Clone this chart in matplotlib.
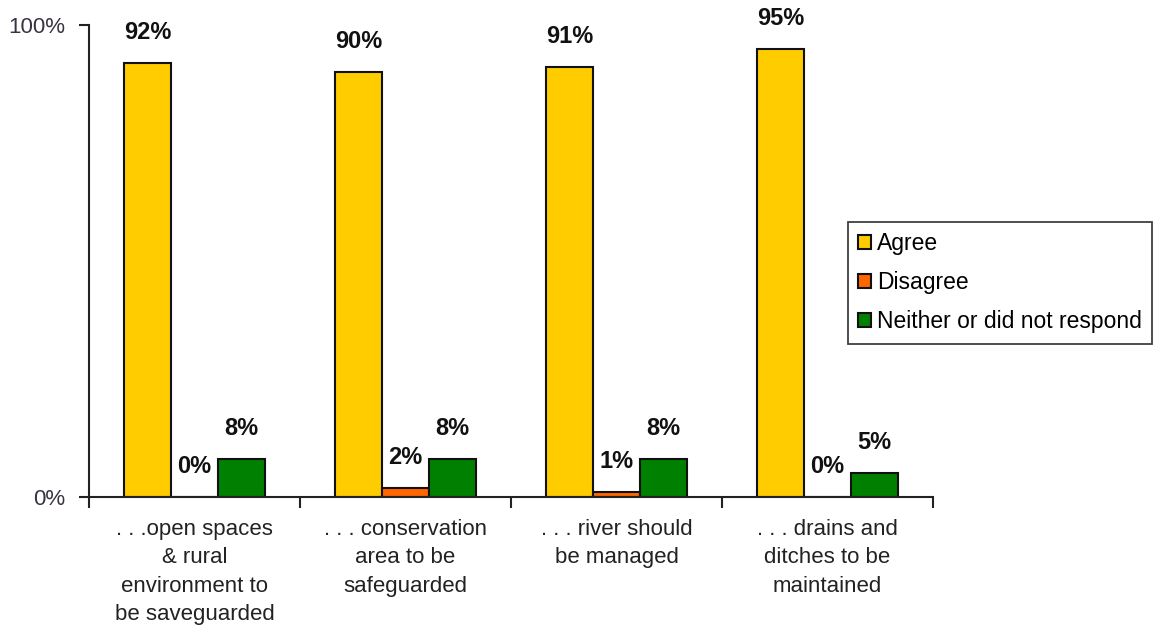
import matplotlib
matplotlib.use("Agg")
import matplotlib.pyplot as plt
import numpy as np

categories = [". . .open spaces\n& rural\nenvironment to\nbe saveguarded",
              ". . . conservation\narea to be\nsafeguarded",
              ". . . river should\nbe managed",
              ". . . drains and\nditches to be\nmaintained"]
series_names = ["Agree", "Disagree", "Neither or did not respond"]
agree = [92, 90, 91, 95]
disagree = [0, 2, 1, 0]
neither = [8, 8, 8, 5]
colors = ["#FFCC00", "#FF6600", "#008000"]
y_ticks = [0, 100]
y_tick_labels = ["0%", "100%"]

plt.rcParams['font.family'] = ['Liberation Sans', 'DejaVu Sans']

fig = plt.figure(figsize=(11.67, 6.29), dpi=100)
ax = fig.add_axes([89/1167, 1-497/629, (933-89)/1167, (497-25)/629])

x = np.arange(len(categories))
w = 0.223
for i, (vals, col, name) in enumerate(zip([agree, disagree, neither], colors, series_names)):
    pos = x + (i - 1) * w
    ax.bar(pos, vals, width=w, color=col, edgecolor="#111111", linewidth=1.5, label=name, zorder=2)
    for p, v in zip(pos, vals):
        ax.annotate(f"{v}%", xy=(p, v), xytext=(0, 22), textcoords="offset points",
                    ha="center", va="center", fontsize=17, fontweight="bold", color="#111111")

ax.set_xlim(-0.5, len(categories) - 0.5)
ax.set_ylim(0, 100)
ax.set_yticks(y_ticks)
ax.set_yticklabels(y_tick_labels, fontsize=16, color="#3a3340")
ax.set_xticks(x)
ax.set_xticklabels(categories, fontsize=16, color="#222222", linespacing=1.45)
ax.set_xticks(np.arange(-0.5, len(categories)), minor=True)
ax.tick_params(axis="x", which="major", length=0, pad=16)
ax.tick_params(axis="x", which="minor", length=8, width=1.5, direction="out", color="#222222")
ax.tick_params(axis="y", length=7, width=1.5, direction="out", color="#222222", pad=10)
for s in ["top", "right"]:
    ax.spines[s].set_visible(False)
for s in ["left", "bottom"]:
    ax.spines[s].set_linewidth(1.5)
    ax.spines[s].set_color("#222222")

leg = fig.legend(loc="upper left", bbox_to_anchor=(848/1167, 1-222/629), fontsize=16.5,
                 fancybox=False, frameon=True, edgecolor="#111111", handlelength=0.55,
                 handleheight=0.55, handletextpad=0.25, labelspacing=0.7, borderpad=0.45,
                 borderaxespad=0)
leg.get_frame().set_linewidth(1.3)

fig.savefig("out.png", dpi=100, facecolor="white")
